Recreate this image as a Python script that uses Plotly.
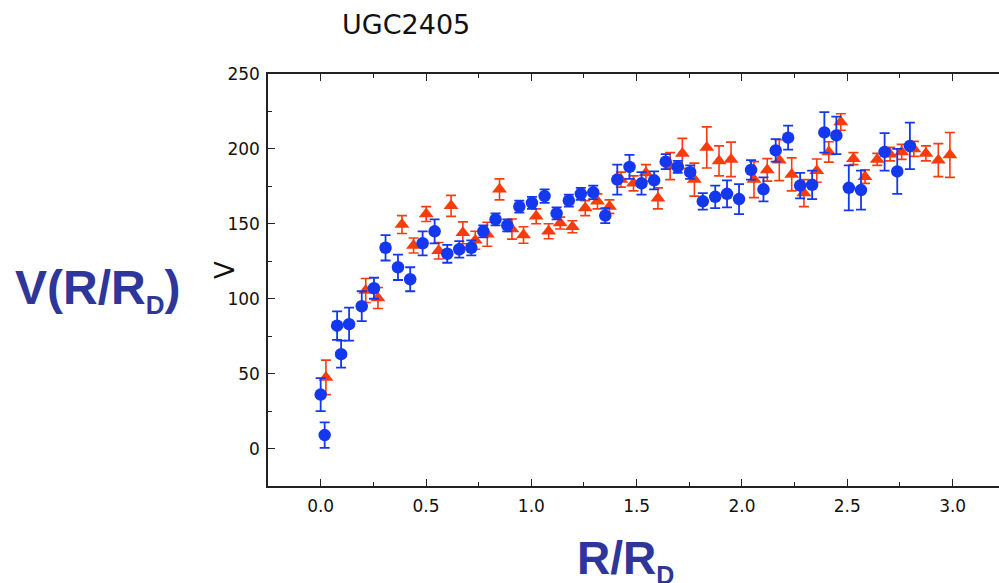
import plotly.graph_objects as go

# ---- data ----
blue_x = [0.000, 0.019, 0.078, 0.097, 0.135, 0.195, 0.253, 0.308, 0.367, 0.425,
          0.484, 0.541, 0.601, 0.658, 0.715, 0.772, 0.830, 0.886, 0.943, 1.003,
          1.063, 1.120, 1.178, 1.235, 1.294, 1.351, 1.408, 1.466, 1.523, 1.583,
          1.638, 1.695, 1.754, 1.814, 1.873, 1.929, 1.986, 2.043, 2.102, 2.160,
          2.219, 2.276, 2.333, 2.391, 2.448, 2.507, 2.565, 2.677, 2.737, 2.797]
blue_y = [36, 9, 82, 63, 83, 95, 107, 134, 121, 113,
          137, 145, 130, 133, 134, 145, 153, 149, 161.5, 164,
          168.5, 157, 165.5, 170, 171, 155.5, 179.5, 188, 177, 179,
          191.5, 188, 184.5, 165, 168, 170, 166.5, 186, 173, 199,
          207.5, 175.5, 176, 211, 209, 174, 172.5, 198, 185, 202]
blue_err = [11, 8.5, 9.5, 9, 11, 10, 7, 8.5, 8.5, 8,
            8, 8, 6, 5.5, 5, 4, 4, 4, 4, 4,
            4.5, 4, 4, 4, 4.5, 5, 10, 8, 7.5, 6,
            5, 4, 4.5, 5.5, 7.5, 9, 10, 6.5, 8, 7.5,
            8, 8.5, 9.5, 13.5, 12.5, 15, 13, 12.5, 15, 15.5]

red_x = [0.025, 0.214, 0.272, 0.386, 0.441, 0.501, 0.560, 0.619, 0.675, 0.734,
         0.791, 0.849, 0.908, 0.963, 1.023, 1.082, 1.137, 1.195, 1.256, 1.314,
         1.371, 1.425, 1.485, 1.544, 1.601, 1.659, 1.717, 1.774, 1.833, 1.891,
         1.948, 2.057, 2.120, 2.177, 2.236, 2.294, 2.355, 2.412, 2.469, 2.529,
         2.584, 2.642, 2.703, 2.758, 2.816, 2.873, 2.932, 2.987]
red_y = [47.5, 105.5, 100.5, 149.5, 135.5, 156.5, 132, 162, 144, 139,
         143, 173, 146.5, 142.5, 155, 145, 150.5, 148, 160.5, 165,
         161.5, 179.5, 177, 184, 167, 188.5, 197, 179.5, 201, 192,
         193, 179.5, 186, 192.5, 183, 170.5, 185.5, 198, 218, 193.5,
         181.5, 193, 196.5, 198, 200, 197, 192.5, 196]
red_err = [11.5, 8, 7, 6, 5, 5, 5.5, 7, 7.3, 6,
           8, 7, 6.7, 5.5, 5, 5, 4, 4, 5, 5,
           4.5, 5, 5, 5.5, 7, 9, 10, 11, 13.7, 10,
           11.5, 12, 7.5, 13.7, 11, 9, 7.8, 6.8, 5.5, 4,
           4.5, 4, 4.5, 5, 5, 5, 11, 15]

x_tick_vals = [0.0, 0.5, 1.0, 1.5, 2.0, 2.5, 3.0]
y_tick_vals = [0, 50, 100, 150, 200, 250]

BLUE = "#1438f0"
RED = "#fa3c0c"
LABEL = "#2f3699"
AXC = "#222222"

fig = go.Figure()
fig.add_trace(go.Scatter(
    x=red_x, y=red_y, mode="markers",
    marker=dict(symbol="triangle-up", size=13, color=RED, line=dict(width=0)),
    error_y=dict(type="data", array=red_err, visible=True, color=RED,
                 thickness=1.6, width=5),
    showlegend=False))
fig.add_trace(go.Scatter(
    x=blue_x, y=blue_y, mode="markers",
    marker=dict(symbol="circle", size=12.5, color=BLUE, line=dict(width=0)),
    error_y=dict(type="data", array=blue_err, visible=True, color=BLUE,
                 thickness=1.8, width=5),
    showlegend=False))

tickfont = dict(family="DejaVu Sans", size=17, color="#111111")

fig.update_layout(
    width=999, height=583,
    margin=dict(l=0, r=0, t=0, b=0, pad=0),
    paper_bgcolor="white", plot_bgcolor="white",
    xaxis=dict(
        domain=[268/999, 1.0], range=[-0.25, 3.22], automargin=False,
        showgrid=False, zeroline=False,
        showline=True, linecolor=AXC, linewidth=1.5, mirror="ticks",
        ticks="inside", ticklen=7, tickwidth=1.3, tickcolor=AXC,
        tickvals=x_tick_vals, ticktext=[f"{v:.1f}" for v in x_tick_vals],
        tickfont=tickfont, ticklabelstandoff=4,
        minor=dict(dtick=0.25, tick0=0, ticks="inside", ticklen=4,
                   tickwidth=1.1, tickcolor=AXC, showgrid=False),
    ),
    yaxis=dict(
        domain=[1 - 486/583, 1 - 74/583], range=[-25, 250], automargin=False,
        showgrid=False, zeroline=False,
        showline=True, linecolor=AXC, linewidth=1.5, mirror=False,
        ticks="inside", ticklen=7, tickwidth=1.3, tickcolor=AXC,
        tickvals=y_tick_vals, ticktext=[str(v) for v in y_tick_vals],
        tickfont=tickfont, ticklabelstandoff=3,
        minor=dict(dtick=25, tick0=0, ticks="inside", ticklen=4,
                   tickwidth=1.1, tickcolor=AXC, showgrid=False),
    ),
)

annos = [
    dict(text="UGC2405", x=406/999, y=1 - 24/583, xanchor="center", yanchor="middle",
         font=dict(family="DejaVu Sans", size=27, color="#111111")),
    dict(text="V", x=225/999, y=1 - 270/583, xanchor="center", yanchor="middle",
         textangle=-90, font=dict(family="DejaVu Sans", size=26, color="#111111")),
    dict(text='V(R/R<sub><span style="font-size:26px">D</span></sub>)',
         x=13/999, y=1 - 290/583, xanchor="left", yanchor="middle",
         font=dict(family="Liberation Sans", size=48, color=LABEL, weight="bold")),
    dict(text='R/R<sub><span style="font-size:25px">D</span></sub>',
         x=575/999, y=1 - 560/583, xanchor="left", yanchor="middle",
         font=dict(family="Liberation Sans", size=46, color=LABEL, weight="bold")),
]
for a in annos:
    a.update(xref="paper", yref="paper", showarrow=False)
    fig.add_annotation(**a)

fig.write_html(
    "out.html",
    config={"displayModeBar": False},
    post_script="document.body.style.margin='0px';document.body.style.overflow='hidden';",
)
